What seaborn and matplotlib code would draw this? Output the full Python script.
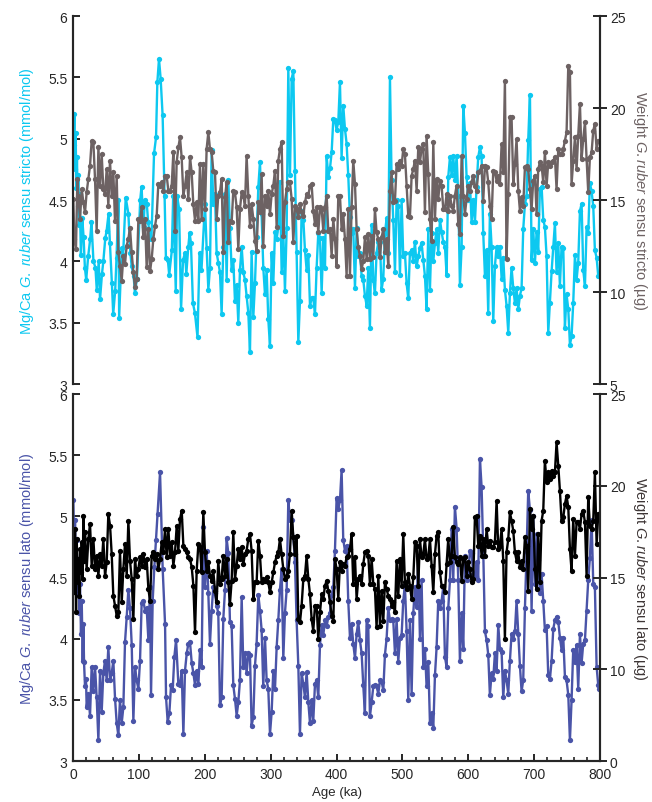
import matplotlib
matplotlib.use('Agg')
import matplotlib.pyplot as plt
import seaborn as sns
from matplotlib.ticker import MultipleLocator, FuncFormatter

# ---- data (ages in ka) ----
# common sampling of the 200-800 ka part of all four records
age_late = [
    200.3, 202.8, 205.4, 207.9, 210.4, 212.9, 215.5, 218.0, 220.5, 223.1,
    225.6, 228.1, 230.7, 233.2, 235.7, 238.2, 240.8, 243.3, 245.8, 248.4,
    250.9, 253.4, 256.0, 258.5, 261.0, 263.5, 266.1, 268.6, 271.1, 273.7,
    276.2, 278.7, 281.3, 283.8, 286.3, 288.8, 291.4, 293.9, 296.4, 299.0,
    301.5, 304.0, 306.6, 309.1, 311.6, 314.1, 316.7, 319.2, 321.7, 324.3,
    326.8, 329.3, 331.9, 334.4, 336.9, 339.4, 342.0, 344.5, 347.0, 349.6,
    352.1, 354.6, 357.2, 359.7, 362.2, 364.7, 367.3, 369.8, 372.3, 374.9,
    377.4, 379.9, 382.5, 385.0, 387.5, 390.1, 392.6, 395.1,
    397.6, 400.1, 402.7, 405.2, 407.7, 410.2, 412.8, 415.3, 417.8, 420.4,
    422.9, 425.4, 428.0, 430.5, 433.0, 435.5, 438.1, 440.6, 443.1, 445.7,
    448.2, 450.7, 453.3, 455.8, 458.3, 460.8, 463.4, 465.9, 468.4, 471.0,
    473.5, 476.0, 478.5, 481.1, 483.6, 486.1, 488.7, 491.2, 493.7, 496.3,
    498.8, 501.3, 503.8, 506.4, 508.9, 511.4, 514.0, 516.5, 519.0, 521.6,
    524.1, 526.6, 529.1, 531.7, 534.2, 536.7, 539.3, 541.8, 544.3, 546.9,
    549.4, 551.9, 554.4, 557.0, 559.5, 562.0, 564.6, 567.1, 569.6, 572.2,
    574.7, 577.2, 579.7, 582.3, 584.8, 587.3, 589.9, 592.4, 594.9,
    597.4, 600.0, 602.5, 605.0, 607.5, 610.1, 612.6, 615.1, 617.7, 620.2,
    622.7, 625.3, 627.8, 630.3, 632.8, 635.4, 637.9, 640.4, 643.0, 645.5,
    648.0, 650.6, 653.1, 655.6, 658.1, 660.7, 663.2, 665.7, 668.3, 670.8,
    673.3, 675.9, 678.4, 680.9, 683.4, 686.0, 688.5, 691.0, 693.6, 696.1,
    698.6, 701.2, 703.7, 706.2, 708.7, 711.3, 713.8, 716.3, 718.9, 721.4,
    723.9, 726.5, 729.0, 731.5, 734.0, 736.6, 739.1, 741.6, 744.2, 746.7,
    749.2, 751.8, 754.3, 756.8, 759.3, 761.9, 764.4, 766.9, 769.5, 772.0,
    774.5, 777.1, 779.6, 782.1, 784.6, 787.2, 789.7, 792.2, 794.8, 797.3]

# Mg/Ca G. ruber sensu stricto (mmol/mol)
ss_mg_age_early = [
    0.5, 1, 2, 3, 4, 5, 6, 7, 8, 9, 10, 12, 14, 16, 18, 20, 23, 26, 28, 31,
    34, 36, 39, 41, 44, 46, 49, 51, 54, 56, 59, 61, 64, 66, 69, 70, 74, 76, 80, 84,
    87, 89, 92, 94, 97, 102, 104, 107, 109, 112, 114, 117, 119, 123, 126, 128,
    130.5, 133, 136, 139, 141, 144, 146, 150, 152, 156, 158, 161, 164, 167, 170,
    172, 175, 177, 179, 182, 185, 189, 192, 195]
ss_mg = [
    5.2, 4.95, 5.2, 4.75, 5.05, 4.6, 4.85, 4.45, 4.7, 4.3, 4.55,
    4.05, 4.35, 4.2, 3.95, 3.85,
    4.04, 4.18, 4.32, 4.0, 3.95, 3.77, 4.0, 3.69, 3.9, 4.0,
    4.19, 4.25, 4.39, 4.15, 3.82, 3.57, 3.76, 4.03, 4.5, 3.54,
    4.11, 4.05, 4.52, 4.39, 4.07, 3.96, 3.88, 3.74, 3.86,
    4.5, 4.61, 4.28, 4.5, 4.47, 4.32, 4.2, 4.18,
    4.88, 5.01, 5.46, 5.65, 5.49, 5.19, 4.53, 4.03, 4.01, 3.89,
    4.09, 4.53, 3.76, 4.53, 4.43, 3.61, 4.01, 4.07, 3.9, 4.12,
    4.23, 4.15, 3.66, 3.58, 3.38, 4.07, 3.93,
    # 200-395 ka
    4.47, 4.11, 3.77, 3.95, 4.91, 4.47, 4.55, 4.07, 3.99, 3.91,
    3.57, 4.12, 4.55, 3.85, 4.66, 4.27, 3.93, 4.01, 3.68, 3.81,
    3.5, 3.93, 4.12, 3.91, 3.85, 3.72, 3.58, 3.26, 4.08, 3.55,
    3.82, 4.2, 4.61, 4.81, 4.39, 3.95, 3.73, 3.93, 3.53, 3.31,
    4.07, 3.82, 4.24, 4.18, 4.28, 4.65, 3.91, 4.24, 3.76, 4.27,
    5.58, 4.7, 5.49, 5.55, 4.74, 4.08, 3.34, 3.68, 4.41, 4.34,
    4.09, 3.93, 4.05, 3.64, 3.7, 3.7, 3.57, 3.95, 4.23, 4.19,
    3.74, 4.19, 3.95, 4.86, 4.69, 4.76, 4.89, 5.16,
    # 397-595 ka
    5.15, 5.07, 5.14, 5.46, 4.84, 5.27, 5.08, 4.96, 4.7, 4.36,
    4.23, 4.26, 3.78, 4.27, 4.04, 4.07, 3.88, 3.85, 3.72, 3.64,
    3.95, 3.46, 4.3, 3.85, 3.74, 4.07, 4.16, 4.16, 3.77, 3.86,
    4.23, 4.35, 4.07, 5.5, 4.66, 4.34, 3.91, 4.5, 4.45, 3.89,
    4.5, 4.04, 4.07, 3.82, 3.7, 4.07, 4.09, 4.0, 4.16, 3.96,
    4.04, 4.11, 4.15, 4.01, 3.88, 3.61, 4.26, 3.77, 4.23, 4.0,
    4.15, 4.26, 4.07, 4.34, 4.24, 4.16, 4.12, 3.89, 4.69, 4.85,
    4.7, 4.86, 4.66, 4.86, 4.53, 3.81, 4.12, 5.27, 5.05,
    # 597-797 ka
    4.69, 4.5, 4.64, 4.32, 4.5, 4.32, 4.61, 4.85, 4.93, 4.86,
    4.23, 3.88, 4.09, 3.58, 4.39, 4.12, 3.51, 3.96, 4.12, 4.04,
    4.12, 3.86, 4.03, 3.77, 3.64, 3.42, 3.74, 3.95, 3.78, 3.66,
    3.78, 3.61, 3.72, 3.78, 4.26, 4.47, 4.53, 4.99, 5.36, 4.01,
    4.26, 3.99, 4.24, 4.08, 4.59, 4.61, 4.34, 4.28, 4.04, 3.42,
    3.66, 3.92, 4.12, 4.31, 3.91, 4.15, 3.8, 4.12, 4.11, 3.46,
    3.73, 3.61, 3.32, 3.39, 3.66, 4.05, 3.85, 3.99, 4.41, 4.47,
    3.93, 3.8, 4.28, 4.23, 4.64, 4.57, 4.45, 4.09, 4.03, 3.88]

# Weight G. ruber sensu stricto (ug)
ss_wt_age_early = [
    0.5, 2.0, 4.5, 6.6, 8.1, 10.6, 13.2, 15.7, 18.2, 20.7,
    23.3, 25.8, 28.3, 30.9, 33.4, 35.9, 38.5, 41.0, 43.5, 46.0,
    48.6, 51.1, 53.6, 56.1, 58.7, 61.2, 63.7, 66.3, 68.8, 71.3,
    73.9, 76.4, 78.9, 81.4, 84.0, 86.5, 89.0, 91.6, 94.1, 96.6,
    99.2, 101.7, 104.2, 106.7, 109.3, 111.8, 114.3, 116.9, 119.4, 121.9,
    124.5, 127.0, 129.5, 132.0, 134.6, 137.1, 139.6, 142.2, 144.7, 147.2,
    149.8, 152.3, 154.8, 157.3, 159.9, 162.4, 164.9, 167.5, 170.0, 172.5,
    175.1, 177.6, 180.1, 182.6, 185.2, 187.7, 190.2, 192.7, 195.2, 197.8]
ss_wt = [
    15.05, 12.88, 12.34, 16.14, 15.24, 13.97, 15.6, 14.87, 14.33, 15.42,
    16.14, 16.87, 18.22, 18.13, 16.14, 13.33, 17.86, 15.78, 17.5, 15.6,
    15.33, 16.68, 14.7, 17.14, 15.24, 16.5, 13.88, 16.32, 12.16, 11.43,
    10.62, 11.97, 11.52, 12.52, 12.88, 13.5, 12.16, 11.07, 10.25, 10.71,
    13.97, 13.88, 14.6, 12.97, 13.97, 11.34, 13.42, 11.16, 11.79, 12.88,
    13.6, 14.15, 15.87, 15.78, 15.96, 15.5, 16.32, 16.32, 15.5, 15.5,
    15.78, 17.59, 13.33, 17.05, 17.86, 18.4, 17.32, 15.24, 15.78, 16.5,
    15.05, 17.32, 16.5, 14.78, 13.88, 14.87, 13.88, 16.96, 13.97, 16.96,
    # 200-395 ka
    14.51, 17.77, 18.68, 17.77, 17.59, 16.59, 16.5, 13.97, 15.24, 15.42,
    16.14, 12.16, 15.15, 15.96, 12.7, 13.88, 13.79, 15.51, 15.42, 14.6,
    12.34, 14.51, 15.42, 15.24, 14.69, 17.41, 15.24, 13.6, 14.78, 13.97,
    12.79, 12.25, 14.87, 14.33, 16.41, 12.52, 15.24, 14.69, 15.51, 14.24,
    15.33, 15.78, 16.59, 13.51, 17.14, 17.77, 18.13, 13.06, 14.87, 15.6,
    15.96, 15.96, 15.05, 12.7, 14.69, 14.51, 14.06, 14.78, 14.33, 14.15,
    14.87, 15.33, 15.24, 15.78, 15.87, 14.42, 13.7, 14.6, 13.24, 14.6,
    14.51, 13.33, 14.6, 15.24, 13.33, 13.42, 11.97, 13.97,
    # 397-595 ka
    12.88, 11.43, 15.24, 15.24, 13.42, 14.24, 12.88, 10.89, 14.51, 10.89,
    14.6, 17.14, 15.87, 13.42, 12.43, 11.97, 11.25, 11.7, 12.97, 11.79,
    13.15, 11.79, 13.06, 11.88, 14.51, 13.24, 12.88, 11.88, 12.97, 13.42,
    12.16, 12.88, 11.43, 15.51, 16.5, 14.87, 14.96, 16.96, 16.68, 17.14,
    16.87, 17.77, 17.5, 15.78, 14.15, 14.06, 16.32, 16.68, 17.14, 15.51,
    17.86, 17.05, 17.77, 18.04, 14.33, 18.5, 16.41, 13.97, 12.79, 18.13,
    13.97, 16.14, 15.05, 16.05, 15.78, 14.51, 14.51, 15.33, 14.42, 15.24,
    14.69, 14.42, 15.24, 15.78, 13.7, 13.15, 17.41, 15.24, 14.24,
    # 597-797 ka
    15.05, 15.78, 15.51, 15.96, 16.32, 15.78, 15.51, 16.5, 16.59, 16.87,
    14.96, 16.87, 16.78, 15.96, 14.69, 13.97, 16.59, 16.5, 16.05, 16.32,
    15.87, 18.04, 16.5, 21.49, 11.79, 15.33, 19.49, 19.49, 15.87, 16.96,
    18.32, 15.51, 14.42, 15.15, 14.69, 16.78, 16.87, 16.68, 15.6, 14.51,
    16.05, 16.32, 14.24, 16.68, 17.05, 16.87, 15.96, 17.59, 15.78, 17.05,
    16.87, 17.05, 17.14, 17.32, 15.6, 17.77, 17.5, 17.5, 17.77, 18.22,
    18.68, 22.3, 21.94, 15.87, 17.14, 18.41, 16.68, 18.5, 20.22, 17.23,
    18.32, 19.22, 17.23, 15.42, 17.32, 17.59, 18.77, 19.13, 17.77, 18.22]

# Mg/Ca G. ruber sensu lato (mmol/mol)
sl_mg_age_early = [
    0.5, 2.0, 3.0, 4.6, 5.6, 6.6, 8.1, 9.6, 10.6, 12.1,
    13.2, 14.7, 15.7, 16.7, 18.2, 19.7, 20.7, 23.3, 25.8, 28.3,
    30.9, 33.4, 35.9, 38.5, 41.0, 43.5, 46.0, 48.6, 51.1, 53.6,
    56.2, 58.7, 61.2, 63.8, 66.3, 68.8, 71.3, 73.9, 76.4, 78.9,
    81.5, 84.0, 86.5, 89.1, 91.6, 94.1, 96.6, 99.2, 101.7, 104.2,
    106.8, 109.3, 111.8, 114.4, 116.9, 118.4, 120.9, 123.5, 126.0, 128.5,
    132.1, 136.1, 139.7, 141.2, 143.7, 146.2, 148.8, 151.3, 153.8, 156.4,
    159.9, 162.4, 165.0, 167.5, 170.0, 172.6, 175.1, 177.6, 180.2, 182.7,
    185.2, 187.7, 190.3, 192.8, 195.2, 197.8]
sl_mg = [
    5.13, 4.67, 4.97, 4.48, 4.81, 4.37, 4.59, 4.21, 4.45, 4.04,
    4.31, 3.82, 4.12, 3.81, 3.61, 3.67, 3.44, 3.55, 3.37, 3.77,
    3.57, 3.77, 3.52, 3.17, 3.74, 3.4, 3.72, 3.82, 3.66, 3.93,
    3.66, 3.72, 3.82, 3.51, 3.31, 3.21, 3.5, 3.31, 3.44, 3.97,
    4.18, 4.4, 4.25, 3.95, 3.33, 3.77, 3.66, 3.59, 3.82, 4.29,
    4.31, 4.23, 4.25, 3.99, 4.42, 3.54, 4.31, 4.59, 4.81, 5.02,
    5.36, 4.57, 4.12, 3.52, 3.32, 3.39, 3.62, 3.58, 3.85, 3.99,
    3.63, 3.62, 3.74, 3.22, 3.74, 3.88, 3.96, 3.97, 3.8, 3.72,
    3.62, 3.74, 3.63, 3.91, 3.77, 4.91,
    # 200-395 ka
    4.42, 4.72, 4.37, 3.96, 4.23, 4.42, 4.37, 4.27, 4.21, 3.46,
    3.52, 4.16, 4.4, 4.82, 4.7, 4.14, 4.1, 3.62, 3.51, 3.37,
    3.48, 3.66, 4.34, 3.77, 3.88, 3.72, 3.88, 3.87, 3.29, 3.36,
    3.78, 3.96, 4.36, 4.23, 4.07, 3.61, 4.01, 3.66, 3.59, 3.22,
    3.4, 3.74, 3.59, 3.93, 4.15, 4.4, 4.57, 3.84, 4.21, 4.4,
    5.13, 4.97, 4.97, 4.83, 4.63, 4.15, 3.78, 3.22, 3.72, 3.63,
    3.52, 3.73, 3.48, 3.31, 3.5, 3.33, 3.63, 3.66, 3.52, 3.95,
    4.11, 4.03, 4.15, 4.1, 4.18, 4.21, 4.36, 4.42,
    # 397-595 ka
    4.72, 5.15, 5.06, 5.13, 5.38, 4.81, 4.72, 4.76, 4.31, 4.01,
    4.12, 3.96, 3.84, 4.04, 4.14, 3.99, 3.88, 3.62, 3.39, 4.15,
    4.1, 3.37, 3.48, 3.61, 3.62, 3.61, 3.55, 3.66, 3.65, 3.58,
    3.87, 4.0, 4.25, 4.15, 4.16, 4.15, 3.88, 4.16, 3.81, 4.01,
    4.03, 4.31, 4.44, 4.06, 3.5, 4.15, 3.55, 4.21, 4.42, 4.26,
    4.68, 4.0, 4.48, 3.77, 3.92, 3.61, 3.81, 3.31, 3.39, 3.27,
    3.7, 3.93, 4.31, 4.25, 4.31, 4.42, 3.85, 3.77, 4.25, 4.48,
    4.9, 4.48, 5.08, 4.9, 4.48, 3.82, 4.21, 3.92, 4.68,
    # 597-797 ka
    4.48, 4.53, 4.72, 4.7, 4.53, 4.51, 4.63, 4.48, 5.47, 5.24,
    4.72, 4.06, 3.99, 3.87, 3.54, 3.72, 3.67, 3.88, 3.74, 4.11,
    3.92, 3.89, 3.52, 3.74, 3.66, 3.55, 3.82, 4.04, 4.0, 4.06,
    4.31, 4.04, 3.78, 3.57, 3.66, 4.25, 4.71, 5.21, 5.05, 4.23,
    5.0, 4.45, 4.86, 4.64, 4.37, 4.53, 4.31, 4.07, 4.1, 3.7,
    3.67, 3.82, 4.08, 4.15, 4.18, 4.14, 4.01, 3.91, 4.01, 3.69,
    3.66, 3.54, 3.17, 3.5, 3.91, 3.81, 3.95, 3.59, 4.04, 3.8,
    3.96, 3.99, 4.23, 4.48, 4.66, 4.97, 4.45, 4.42, 3.77, 3.62,
    3.59]
sl_mg_age_end = [798.8]

# Weight G. ruber sensu lato (ug)
sl_wt_age_early = [
    0.5, 1.5, 3.0, 4.6, 5.6, 7.1, 8.1, 9.6, 10.6, 12.1,
    13.2, 14.7, 15.7, 17.2, 18.2, 20.7, 23.3, 25.8, 28.3, 30.9,
    33.4, 35.9, 38.5, 41.0, 43.5, 46.0, 48.6, 51.1, 53.6, 56.2,
    58.7, 61.2, 63.8, 66.3, 68.8, 71.3, 73.9, 76.4, 78.9, 81.5,
    84.0, 86.5, 89.1, 91.6, 94.1, 96.6, 99.2, 101.7, 104.2, 106.8,
    109.3, 111.8, 114.4, 116.9, 119.4, 121.9, 124.5, 127.0, 129.5, 132.1,
    134.6, 137.1, 139.7, 142.2, 144.7, 147.2, 149.8, 152.3, 154.8, 157.4,
    159.9, 162.4, 165.0, 167.5, 170.0, 172.6, 175.1, 177.6, 180.2, 182.7,
    185.2, 187.7, 190.3, 192.8, 195.2, 197.8]
sl_wt = [
    16.19, 14.19, 17.65, 13.1, 17.1, 14.74, 16.01, 14.01, 16.56, 15.28,
    16.92, 14.92, 18.37, 15.92, 17.46, 15.47, 17.1, 17.92, 15.65, 17.1,
    15.47, 16.19, 15.1, 16.28, 15.65, 17.1, 15.1, 15.83, 18.46, 17.83,
    16.28, 14.01, 13.47, 12.92, 13.1, 16.46, 13.65, 15.47, 16.83, 15.1,
    18.1, 15.92, 14.92, 12.74, 16.01, 15.1, 15.47, 16.1, 15.65, 16.28,
    15.56, 16.01, 14.38, 13.74, 16.19, 16.37, 16.01, 16.28, 15.47, 16.01,
    16.92, 16.37, 17.65, 16.1, 17.65, 16.19, 16.92, 15.65, 16.37, 17.83,
    16.46, 18.19, 18.64, 16.74, 16.56, 16.37, 16.1, 16.01, 15.56, 14.56,
    12.01, 15.37, 16.83, 16.65, 15.28, 18.55,
    # 200-395 ka
    16.37, 15.37, 15.83, 15.1, 14.83, 15.37, 14.28, 13.65, 15.92, 14.65,
    14.92, 16.19, 15.1, 16.01, 14.74, 13.56, 14.83, 17.46, 14.92, 15.65,
    16.56, 16.01, 16.65, 15.74, 16.28, 16.46, 17.1, 17.37, 16.46, 13.83,
    14.74, 14.74, 17.01, 16.19, 14.74, 14.92, 14.83, 15.01, 14.74, 14.19,
    14.74, 15.28, 15.83, 16.19, 16.37, 17.1, 16.28, 15.47, 14.92, 15.1,
    15.37, 16.28, 18.64, 17.19, 16.28, 17.28, 12.74, 12.56, 13.47, 14.92,
    15.1, 16.19, 14.92, 14.1, 12.74, 12.1, 13.47, 13.47, 11.65, 13.1,
    14.1, 13.83, 14.56, 14.83, 14.28, 13.65, 12.92, 12.65,
    # 397-595 ka
    16.01, 15.47, 13.83, 15.83, 15.37, 15.74, 15.65, 16.1, 16.19, 16.56,
    17.37, 14.65, 16.1, 13.83, 14.92, 15.1, 14.65, 15.74, 16.37, 16.46,
    16.19, 14.65, 16.01, 14.65, 14.38, 12.29, 15.1, 12.38, 14.28, 12.65,
    14.74, 14.38, 14.01, 13.83, 13.47, 13.65, 13.1, 15.92, 14.01, 16.01,
    14.56, 17.37, 14.74, 14.38, 15.19, 14.56, 13.83, 15.01, 16.92, 16.74,
    14.56, 17.1, 16.1, 16.28, 17.1, 16.01, 16.1, 17.1, 15.65, 14.19,
    16.28, 17.28, 17.46, 15.28, 14.56, 14.56, 14.19, 15.74, 17.1, 15.83,
    16.19, 17.74, 16.1, 15.83, 15.74, 16.1, 14.83, 16.01, 16.1,
    # 597-797 ka
    15.1, 15.83, 15.47, 14.74, 14.92, 18.28, 18.37, 16.74, 17.28, 16.19,
    17.1, 16.19, 17.65, 16.74, 17.01, 16.65, 16.65, 16.92, 19.19, 16.56,
    16.74, 17.65, 15.92, 11.65, 16.37, 17.1, 18.55, 18.1, 17.55, 16.37,
    15.92, 16.37, 15.56, 15.92, 15.47, 17.19, 16.74, 14.28, 18.74, 17.65,
    18.37, 15.47, 14.38, 17.37, 14.74, 18.1, 18.64, 21.37, 20.19, 20.73,
    20.37, 20.82, 20.55, 20.73, 22.37, 21.1, 19.73, 18.1, 18.28, 19.01,
    19.46, 18.83, 16.56, 15.37, 18.19, 16.19, 18.01, 18.01, 17.65, 18.46,
    18.64, 18.01, 15.1, 19.37, 17.83, 17.65, 18.1, 20.73, 16.83, 18.46]

mg_ticks = [3, 3.5, 4, 4.5, 5, 5.5, 6]
wt_ticks = [5, 10, 15, 20, 25]
wt_labels_top = ['5', '10', '15', '20', '25']
wt_labels_bottom = ['0', '10', '15', '20', '25']
age_ticks = [0, 100, 200, 300, 400, 500, 600, 700, 800]

c_ss_mg = '#0dc8f0'
c_ss_wt = '#6d6263'
c_sl_mg = '#4a54a8'
c_sl_wt = '#000000'
c_sl_wt_label = '#3d3535'

# ---- style ----
sns.set_style('ticks')
plt.rcParams['font.family'] = ['Liberation Sans', 'DejaVu Sans']
plt.rcParams['mathtext.fontset'] = 'custom'
plt.rcParams['mathtext.rm'] = 'Liberation Sans'
plt.rcParams['mathtext.it'] = 'Liberation Sans:italic'
plt.rcParams['axes.linewidth'] = 1.5

fig = plt.figure(figsize=(6.52, 8.03), dpi=100)
ax_top = fig.add_axes([0.112, 0.5205, 0.8083, 0.4583])
ax_bot = fig.add_axes([0.112, 0.0510, 0.8083, 0.4570])
ax_top2 = ax_top.twinx()
ax_bot2 = ax_bot.twinx()

line_kw = dict(marker='o', markersize=3.8, markeredgewidth=0, linewidth=1.7,
               sort=False, estimator=None, legend=False)

sns.lineplot(x=ss_mg_age_early + age_late, y=ss_mg, ax=ax_top, color=c_ss_mg, **line_kw)
sns.lineplot(x=ss_wt_age_early + age_late, y=ss_wt, ax=ax_top2, color=c_ss_wt, **line_kw)
sns.lineplot(x=sl_mg_age_early + age_late + sl_mg_age_end, y=sl_mg, ax=ax_bot, color=c_sl_mg, **line_kw)
sns.lineplot(x=sl_wt_age_early + age_late, y=sl_wt, ax=ax_bot2, color=c_sl_wt, **line_kw)

fmt = FuncFormatter(lambda v, p: '%g' % v)

for ax in (ax_top, ax_bot):
    ax.set_xlim(0, 800)
    ax.set_ylim(3, 6)
    ax.set_yticks(mg_ticks)
    ax.yaxis.set_major_formatter(fmt)
    ax.tick_params(axis='y', direction='in', length=5, width=1.4, labelsize=10, pad=4)

for ax in (ax_top2, ax_bot2):
    ax.set_ylim(5, 25)
    ax.set_yticks(wt_ticks)
    ax.tick_params(axis='y', direction='inout', length=10, width=1.4, labelsize=10, pad=2)
ax_top2.set_yticklabels(wt_labels_top)
ax_bot2.set_yticklabels(wt_labels_bottom)

for ax in (ax_top, ax_top2):
    ax.spines['top'].set_visible(False)
    ax.spines['bottom'].set_visible(False)
    ax.tick_params(axis='x', bottom=False, labelbottom=False)
    ax.set_xlabel('')
for ax in (ax_bot, ax_bot2):
    ax.spines['top'].set_visible(False)

ax_bot.set_xticks(age_ticks)
ax_bot.xaxis.set_minor_locator(MultipleLocator(20))
ax_bot.tick_params(axis='x', which='major', direction='in', length=5, width=1.4, labelsize=10, pad=4)
ax_bot.tick_params(axis='x', which='minor', direction='in', length=3, width=1.2)
ax_bot.set_xlabel('Age (ka)', fontsize=9.5, labelpad=4)

ax_top.set_ylabel(r'Mg/Ca $\mathit{G.\ ruber}$ sensu stricto (mmol/mol)', color=c_ss_mg, fontsize=10.5, labelpad=9)
ax_bot.set_ylabel(r'Mg/Ca $\mathit{G.\ ruber}$ sensu lato (mmol/mol)', color=c_sl_mg, fontsize=10.5, labelpad=9)
ax_top2.set_ylabel(r'Weight $\mathit{G.ruber}$ sensu stricto (µg)', color=c_ss_wt, fontsize=10.5,
                   rotation=270, va='bottom', labelpad=4)
ax_bot2.set_ylabel(r'Weight $\mathit{G.ruber}$ sensu lato (µg)', color=c_sl_wt_label, fontsize=10.5,
                   rotation=270, va='bottom', labelpad=4)

fig.savefig('out.png', dpi=100)
